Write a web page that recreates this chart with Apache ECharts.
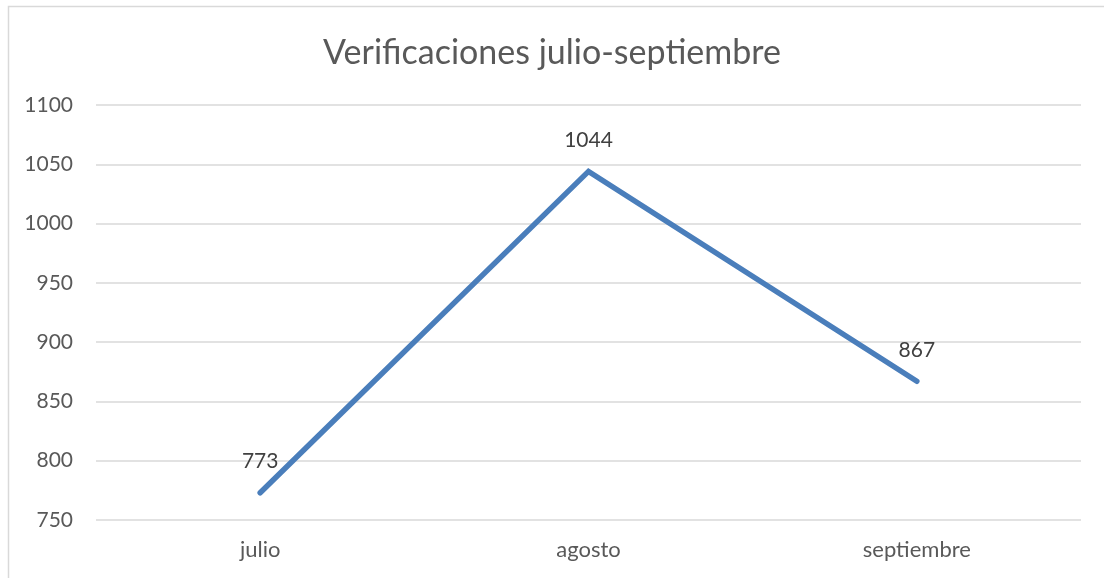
<!DOCTYPE html>
<html>
<head>
<meta charset="utf-8">
<script src="https://cdn.jsdelivr.net/npm/echarts@6/dist/echarts.min.js"></script>
<style>
  html, body { margin: 0; padding: 0; background: #fff; }
  #chart { width: 1104px; height: 578px; }
</style>
</head>
<body>
<div id="chart"></div>
<script>
const months = ['julio', 'agosto', 'septiembre'];
const verificaciones = [773, 1044, 867];
const yTicks = { min: 750, max: 1100, step: 50 };

const chart = echarts.init(document.getElementById('chart'));
const font = 'Lato, "Open Sans", sans-serif';

chart.setOption({
    animation: false,
    title: {
        text: 'Verificaciones julio-septiembre',
        left: 'center',
        top: 31,
        textStyle: { fontFamily: font, fontSize: 34, fontWeight: 'normal', color: '#595959' }
    },
    graphic: [{
        type: 'rect',
        shape: { x: 8.5, y: 6.5, width: 1200, height: 700 },
        style: { fill: 'none', stroke: '#d9d9d9', lineWidth: 1.5 },
        silent: true
    }],
    grid: { left: 96, right: 23, top: 105, bottom: 58 },
    xAxis: {
        type: 'category',
        data: months,
        boundaryGap: true,
        axisLine: { show: false },
        axisTick: { show: false },
        axisLabel: { margin: 19, fontFamily: font, fontSize: 22, color: '#595959' }
    },
    yAxis: {
        type: 'value',
        min: yTicks.min,
        max: yTicks.max,
        interval: yTicks.step,
        axisLine: { show: false },
        axisTick: { show: false },
        splitLine: { lineStyle: { color: '#d9d9d9', width: 1.5 } },
        axisLabel: {
            margin: 23, fontFamily: font, fontSize: 21, color: '#595959',
            formatter: v => String(v)
        }
    },
    series: [{
        type: 'line',
        data: verificaciones,
        symbol: 'circle',
        symbolSize: 1,
        showSymbol: true,
        itemStyle: { color: '#4a7ebb' },
        lineStyle: { color: '#4a7ebb', width: 5.5, cap: 'round', join: 'miter' },
        label: {
            show: true,
            position: 'top',
            distance: 20,
            fontFamily: font,
            fontSize: 21,
            color: '#404040'
        }
    }]
});
</script>
</body>
</html>
